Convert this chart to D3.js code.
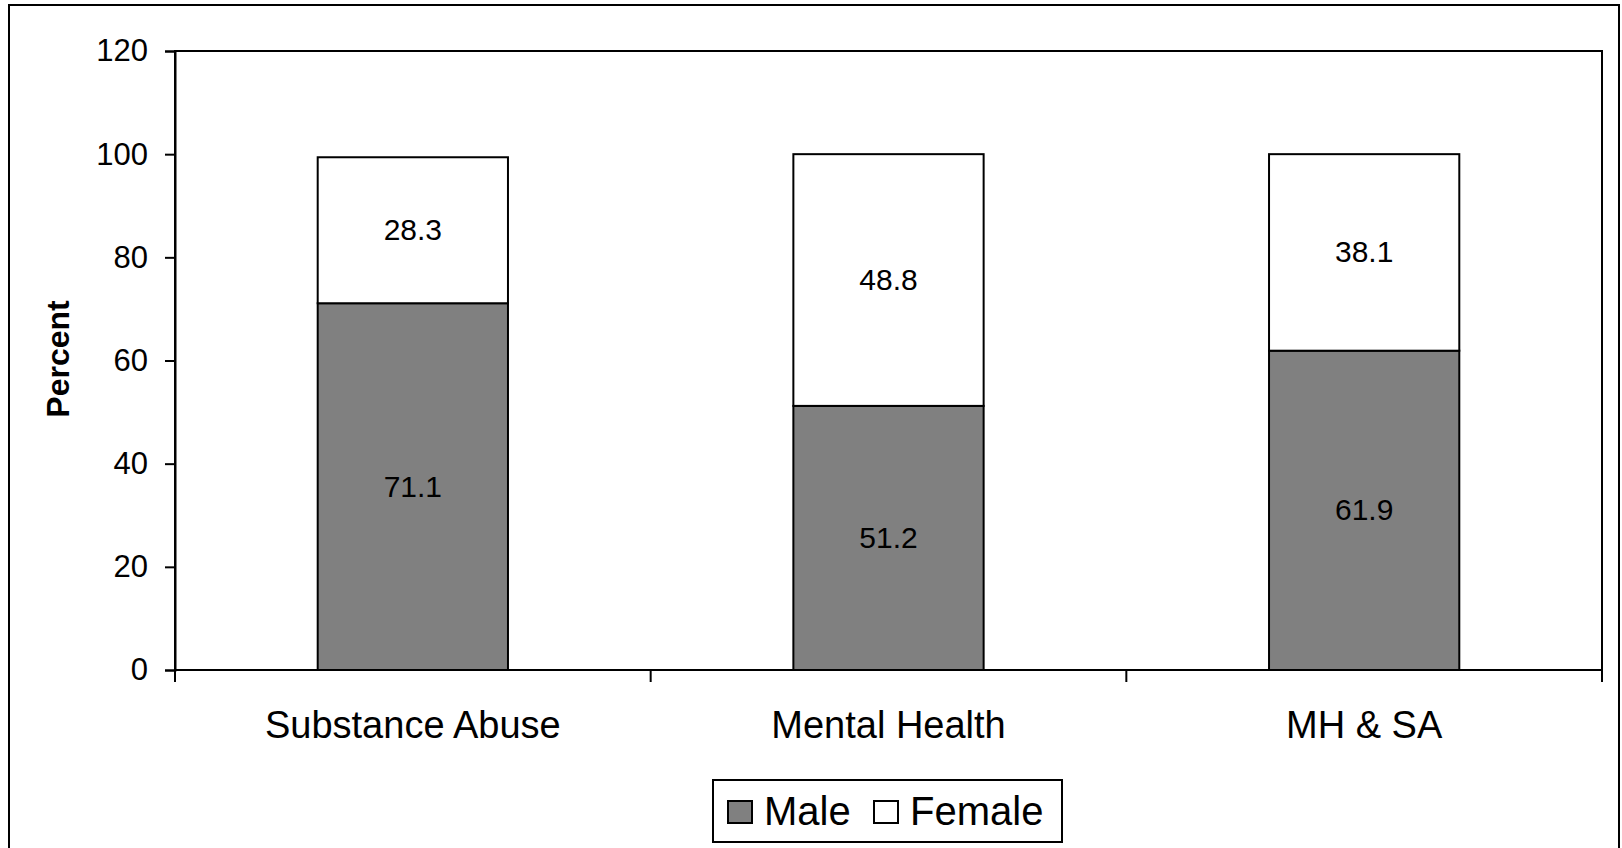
<!DOCTYPE html>
<html>
<head>
<meta charset="utf-8">
<script src="https://cdn.jsdelivr.net/npm/d3@7"></script>
<style>
  body { margin: 0; background: #fff; }
  text { font-family: "Liberation Sans", Arial, sans-serif; fill: #000; }
</style>
</head>
<body>
<script>
// Stacked percent bars: Male / Female by treatment type
const categories = ["Substance Abuse", "Mental Health", "MH & SA"];
const maleValues = [71.1, 51.2, 61.9];
const femaleValues = [28.3, 48.8, 38.1];
const yTicks = [0, 20, 40, 60, 80, 100, 120];
const seriesNames = ["Male", "Female"];
const seriesColors = ["#808080", "#ffffff"];

const width = 1622, height = 848;
const plot = { left: 175, right: 1602, top: 51, bottom: 670 };

const svg = d3.select("body").append("svg")
    .attr("width", width)
    .attr("height", height);

// outer chart border (runs off the bottom edge like the original)
svg.append("rect")
    .attr("x", 9).attr("y", 5)
    .attr("width", 1610).attr("height", 860)
    .attr("fill", "none").attr("stroke", "#000").attr("stroke-width", 2);

const x = d3.scaleBand()
    .domain(categories)
    .range([plot.left, plot.right])
    .paddingInner(0.6)
    .paddingOuter(0.3);

const y = d3.scaleLinear()
    .domain([0, 120])
    .range([plot.bottom, plot.top]);

// plot area frame (top and right)
svg.append("rect")
    .attr("x", plot.left).attr("y", plot.top)
    .attr("width", plot.right - plot.left).attr("height", plot.bottom - plot.top)
    .attr("fill", "none").attr("stroke", "#000").attr("stroke-width", 2);

// stacked data
const rows = categories.map((c, i) => ({ cat: c, Male: maleValues[i], Female: femaleValues[i] }));
const stack = d3.stack().keys(seriesNames)(rows);
const color = d3.scaleOrdinal().domain(seriesNames).range(seriesColors);

const layers = svg.selectAll(".layer")
    .data(stack)
    .enter().append("g")
    .attr("class", "layer");

layers.selectAll("rect")
    .data(d => d.map(s => ({ key: d.key, s: s })))
    .enter().append("rect")
    .attr("x", d => x(d.s.data.cat))
    .attr("y", d => y(d.s[1]))
    .attr("width", x.bandwidth())
    .attr("height", d => y(d.s[0]) - y(d.s[1]))
    .attr("fill", d => color(d.key))
    .attr("stroke", "#000")
    .attr("stroke-width", 2);

layers.selectAll("text")
    .data(d => d.map(s => ({ key: d.key, s: s })))
    .enter().append("text")
    .attr("x", d => x(d.s.data.cat) + x.bandwidth() / 2)
    .attr("y", d => y((d.s[0] + d.s[1]) / 2) + 10)
    .attr("text-anchor", "middle")
    .style("font-size", "30px")
    .text(d => d.s.data[d.key].toFixed(1));

// y axis
const yAxis = svg.append("g")
    .attr("transform", `translate(${plot.left},0)`)
    .call(d3.axisLeft(y).tickValues(yTicks).tickSize(10).tickPadding(17));
yAxis.select(".domain").attr("stroke-width", 2);
yAxis.selectAll(".tick line").attr("stroke-width", 2);
yAxis.selectAll(".tick text")
    .style("font-size", "31px")
    .style("font-family", "'Liberation Sans', Arial, sans-serif");

// x axis line with ticks at category boundaries
svg.append("line")
    .attr("x1", plot.left).attr("x2", plot.right)
    .attr("y1", plot.bottom).attr("y2", plot.bottom)
    .attr("stroke", "#000").attr("stroke-width", 2);

const boundaries = d3.range(categories.length + 1).map(i => plot.left + i * x.step());
svg.selectAll(".xtick")
    .data(boundaries)
    .enter().append("line")
    .attr("class", "xtick")
    .attr("x1", d => d).attr("x2", d => d)
    .attr("y1", plot.bottom).attr("y2", plot.bottom + 12)
    .attr("stroke", "#000").attr("stroke-width", 2);

svg.selectAll(".xlabel")
    .data(categories)
    .enter().append("text")
    .attr("class", "xlabel")
    .attr("x", d => x(d) + x.bandwidth() / 2)
    .attr("y", 738)
    .attr("text-anchor", "middle")
    .style("font-size", "38px")
    .text(d => d);

// y axis title
svg.append("text")
    .attr("transform", "translate(69,359) rotate(-90)")
    .attr("text-anchor", "middle")
    .style("font-size", "32px")
    .style("font-weight", "bold")
    .text("Percent");

// legend
const legend = svg.append("g");
legend.append("rect")
    .attr("x", 713).attr("y", 780)
    .attr("width", 349).attr("height", 62)
    .attr("fill", "#fff").attr("stroke", "#000").attr("stroke-width", 2);

const legendX = [728, 874];
const items = legend.selectAll(".item")
    .data(seriesNames)
    .enter().append("g")
    .attr("class", "item")
    .attr("transform", (d, i) => `translate(${legendX[i]},0)`);
items.append("rect")
    .attr("x", 0).attr("y", 801)
    .attr("width", 24).attr("height", 22)
    .attr("fill", d => color(d))
    .attr("stroke", "#000").attr("stroke-width", 2);
items.append("text")
    .attr("x", 36).attr("y", 825)
    .style("font-size", "40px")
    .text(d => d);
</script>
</body>
</html>
